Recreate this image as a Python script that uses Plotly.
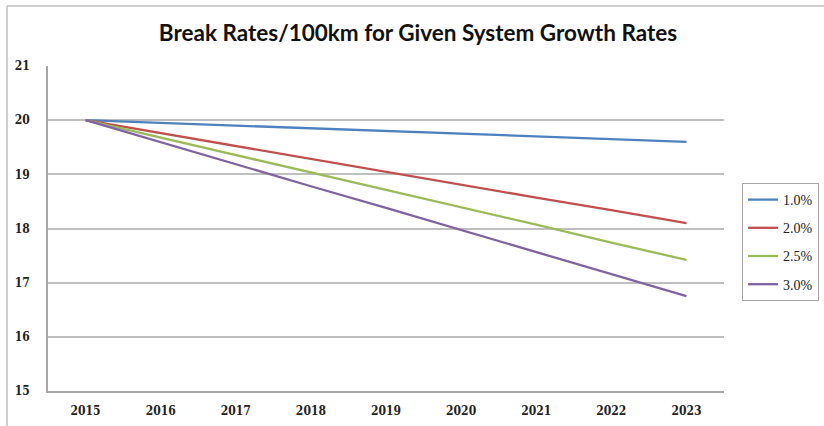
import plotly.graph_objects as go

years = ["2015", "2016", "2017", "2018", "2019", "2020", "2021", "2022", "2023"]
series_names = ["1.0%", "2.0%", "2.5%", "3.0%"]
rate_1_0 = [20.0, 19.95, 19.9, 19.85, 19.8, 19.75, 19.7, 19.65, 19.6]
rate_2_0 = [20.0, 19.76, 19.52, 19.29, 19.05, 18.81, 18.57, 18.34, 18.1]
rate_2_5 = [20.0, 19.68, 19.36, 19.03, 18.71, 18.39, 18.07, 17.74, 17.42]
rate_3_0 = [20.0, 19.59, 19.19, 18.78, 18.38, 17.97, 17.56, 17.16, 16.75]
y_ticks = [15, 16, 17, 18, 19, 20, 21]

colors = ["#4F81BD", "#C0504D", "#9BBB59", "#8064A2"]
values = [rate_1_0, rate_2_0, rate_2_5, rate_3_0]

fig = go.Figure()
for name, vals, col in zip(series_names, values, colors):
    fig.add_trace(go.Scatter(x=years, y=vals, mode="lines", name=name, legendgroup=name,
                             line=dict(color=col, width=2.3)))

L, R, T, B = 48, 724, 66, 391
W, H = 824, 426
fig.update_layout(
    width=W, height=H,
    margin=dict(l=L, r=W - R, t=T, b=H - B, autoexpand=False),
    paper_bgcolor="white", plot_bgcolor="white",
    title=dict(text="Break Rates/100km for Given System Growth Rates",
               x=(418) / W, xanchor="center", y=1 - 33 / H, yanchor="middle",
               font=dict(family="Lato", size=22.5, color="#111111", weight="bold")),
    xaxis=dict(type="category", showgrid=False, showline=True, linecolor="#A6A6A6",
               linewidth=1.5, ticks="", range=[-0.5, 8.5],
               tickfont=dict(family="DejaVu Serif Condensed, Liberation Serif", size=12,
                             color="#222222", weight="bold"),
               ticklabelstandoff=8),
    yaxis=dict(range=[15, 21], tickvals=y_ticks, showgrid=True, gridcolor="#BFBFBF",
               gridwidth=1.5, showline=True, linecolor="#A6A6A6", linewidth=1.5,
               ticks="", zeroline=False,
               tickfont=dict(family="DejaVu Serif Condensed, Liberation Serif", size=12,
                             color="#222222", weight="bold"),
               ticklabelstandoff=14),
    legend=dict(x=(742 - L) / (R - L), xanchor="left", y=(B - 183) / (B - T), yanchor="top",
                bordercolor="#A6A6A6", borderwidth=1, bgcolor="white",
                font=dict(family="Liberation Serif", size=14, color="#222222"),
                itemwidth=30, tracegroupgap=7),
    showlegend=True,
)

# chart outer frame (left and top edges)
px = lambda x: (x - L) / (R - L)
py = lambda y: (B - y) / (B - T)
fig.add_shape(type="line", xref="paper", yref="paper", x0=px(7), x1=px(7), y0=py(6), y1=py(426),
              line=dict(color="#BFBFBF", width=1.5))
fig.add_shape(type="line", xref="paper", yref="paper", x0=px(7), x1=px(824), y0=py(6), y1=py(6),
              line=dict(color="#BFBFBF", width=1.5))

fig.write_html("out.html")
